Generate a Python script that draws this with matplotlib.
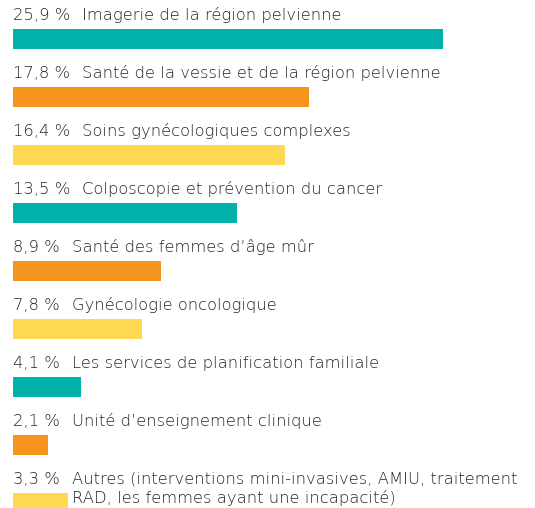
import matplotlib
matplotlib.use("Agg")
import matplotlib.pyplot as plt

values = [25.9, 17.8, 16.4, 13.5, 8.9, 7.8, 4.1, 2.1, 3.3]
value_labels = ["25,9 %", "17,8 %", "16,4 %", "13,5 %", "8,9 %", "7,8 %", "4,1 %", "2,1 %", "3,3 %"]
categories = [
    "Imagerie de la région pelvienne",
    "Santé de la vessie et de la région pelvienne",
    "Soins gynécologiques complexes",
    "Colposcopie et prévention du cancer",
    "Santé des femmes d’âge mûr",
    "Gynécologie oncologique",
    "Les services de planification familiale",
    "Unité d’enseignement clinique",
    "Autres (interventions mini-invasives, AMIU, traitement\nRAD, les femmes ayant une incapacité)",
]
colors = ["#00B2A9", "#F7941D", "#FFD952"] * 3

W, H = 535, 508
fig = plt.figure(figsize=(W / 100, H / 100), dpi=100)
left_px = 13
ax = fig.add_axes([left_px / W, 0, 1 - left_px / W, 1])
ax.set_xlim(0, 25.9 * (W - left_px) / 430)
row_px = 58
top = -38.5 / row_px
bottom = top + H / row_px
ax.set_ylim(bottom, top)
ax.axis("off")

bar_h = 20 / row_px
font = dict(family=["DejaVu Sans"], fontsize=11.8, weight="light", color="#262626")
for i, (v, vl, cat, c) in enumerate(zip(values, value_labels, categories, colors)):
    ax.barh(i, v, height=bar_h, color=c, left=0)
    base = i - 18.5 / row_px
    t = ax.text(0, base, vl, va="baseline", ha="left", **font)
    lines = cat.split("\n")
    prev = ax.annotate(lines[0], xy=(1, 0), xycoords=t, xytext=(8.5, 0), textcoords="offset points",
                       va="bottom", ha="left", **font)
    for ln in lines[1:]:
        prev = ax.annotate(ln, xy=(0, 0), xycoords=prev, xytext=(0, -13.5), textcoords="offset points",
                           va="bottom", ha="left", **font)

fig.savefig("out.png", dpi=100)
